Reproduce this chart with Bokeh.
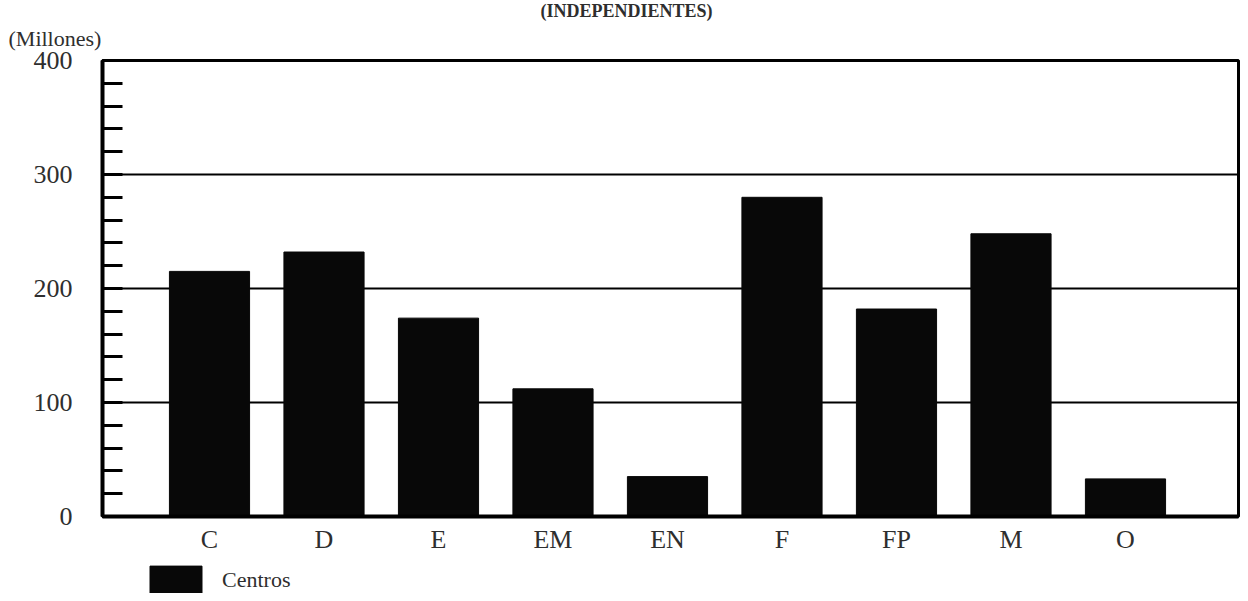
from bokeh.plotting import figure
from bokeh.layouts import column
from bokeh.models import (Range1d, FixedTicker, SingleIntervalTicker, Legend,
                          LegendItem, Title, ColumnDataSource)
from bokeh.embed import file_html
from bokeh.resources import INLINE

# ---- data ----
categories = ["C", "D", "E", "EM", "EN", "F", "FP", "M", "O"]
values = [215, 232, 174, 112, 35, 280, 182, 248, 33]
series_name = "Centros"
y_unit_label = "(Millones)"
subtitle = "(INDEPENDIENTES)"

SERIF = "Liberation Serif"
TEXT_COLOR = "#2e2e2e"
BAR_COLOR = "#080808"

x = list(range(1, len(categories) + 1))
source = ColumnDataSource(dict(x=x, top=values, cat=categories))

p = figure(width=1240, height=560, output_backend="svg", toolbar_location=None,
           x_range=Range1d(0.0655, 9.987), y_range=Range1d(0, 400),
           min_border_left=102, min_border_right=2, min_border_top=60,
           min_border_bottom=44, title=None)
p.background_fill_color = "white"
p.border_fill_color = "white"
p.outline_line_color = "black"
p.outline_line_width = 3

bars = p.vbar(x="x", top="top", width=0.70, source=source,
              fill_color=BAR_COLOR, line_color=BAR_COLOR)

# y axis
yt = SingleIntervalTicker(interval=100, num_minor_ticks=5)
p.yaxis.ticker = yt
p.yaxis.axis_line_width = 4
p.yaxis.axis_line_color = "black"
p.yaxis.minor_tick_in = 20
p.yaxis.minor_tick_out = 0
p.yaxis.minor_tick_line_width = 3
p.yaxis.minor_tick_line_color = "black"
p.yaxis.major_tick_in = 0
p.yaxis.major_tick_out = 0
p.yaxis.major_label_standoff = 30
p.yaxis.major_label_text_font = SERIF
p.yaxis.major_label_text_font_size = "26px"
p.yaxis.major_label_text_color = TEXT_COLOR

# x axis
p.xaxis.ticker = FixedTicker(ticks=x)
p.xaxis.major_label_overrides = {i: c for i, c in zip(x, categories)}
p.xaxis.major_tick_in = 0
p.xaxis.major_tick_out = 0
p.xaxis.minor_tick_line_color = None
p.xaxis.axis_line_width = 4
p.xaxis.axis_line_color = "black"
p.xaxis.major_label_standoff = 8
p.xaxis.major_label_text_font = SERIF
p.xaxis.major_label_text_font_size = "26px"
p.xaxis.major_label_text_color = TEXT_COLOR

# grid
p.xgrid.visible = False
p.ygrid.ticker = yt
p.ygrid.grid_line_color = "black"
p.ygrid.grid_line_width = 2

# texts above the plot (first added sits closest to the frame)
p.add_layout(Title(text=y_unit_label, align="left", offset=-94,
                   vertical_align="top",
                   text_font=SERIF, text_font_size="22px",
                   text_font_style="normal", text_color=TEXT_COLOR,
                   standoff=15), "above")
p.add_layout(Title(text=subtitle, align="left", offset=438,
                   vertical_align="bottom",
                   text_font=SERIF, text_font_size="18px",
                   text_font_style="bold", text_color=TEXT_COLOR,
                   standoff=-4), "above")

# legend strip below (frame is aligned with the main plot's frame)
p2 = figure(width=1240, height=33, output_backend="svg", toolbar_location=None,
            x_range=Range1d(0.0655, 9.987), y_range=Range1d(0, 1),
            x_axis_location=None, y_axis_location=None, title=None,
            min_border=0)
p2.outline_line_color = None
p2.grid.visible = False
p2.background_fill_color = "white"
p2.border_fill_color = "white"
legend_bar = p2.vbar(x="x", top="top", width=0.70, source=source,
                     fill_color=BAR_COLOR, line_color=BAR_COLOR, visible=False)
legend = Legend(items=[LegendItem(label=series_name, renderers=[legend_bar])],
                location=(41, -5), orientation="vertical",
                glyph_width=65, glyph_height=36, label_standoff=14,
                padding=0, margin=0, spacing=0,
                inactive_fill_alpha=0,
                label_text_font=SERIF, label_text_font_size="22px",
                label_text_color=TEXT_COLOR, label_text_baseline="middle",
                border_line_color=None, background_fill_alpha=0)
p2.add_layout(legend, "center")

layout = column(p, p2, spacing=0)
open("out.html", "w").write(file_html(layout, INLINE))
